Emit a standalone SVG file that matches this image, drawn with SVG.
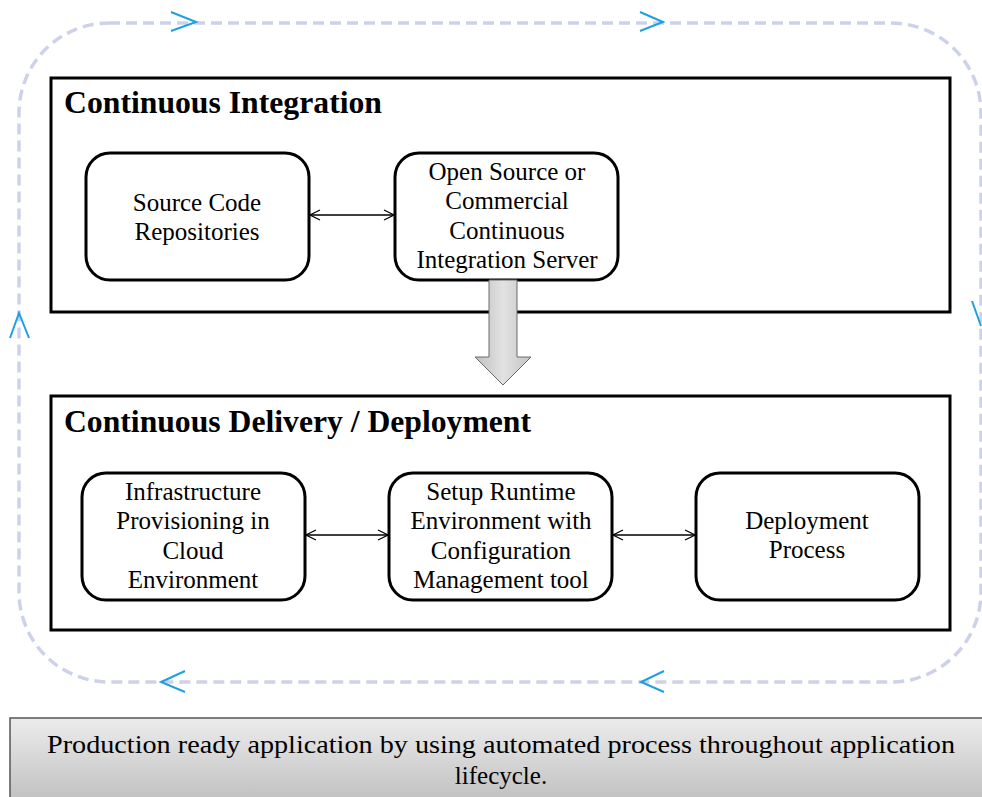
<svg xmlns="http://www.w3.org/2000/svg" width="982" height="797" viewBox="0 0 982 797">
<style>
.box{fill:#fff;stroke:#000;stroke-width:3}
.node{fill:#fff;stroke:#000;stroke-width:3}
.t{font-family:"Liberation Serif","Times New Roman",serif;font-size:25px;fill:#000;text-anchor:middle}
.title{font-family:"Liberation Serif","Times New Roman",serif;font-size:31px;font-weight:bold;fill:#000}
.con{stroke:#000;stroke-width:1.3;fill:none;marker-start:url(#ah);marker-end:url(#ah)}
.chev{fill:none;stroke:#1ea0e0;stroke-width:2}
</style>
<defs>
<marker id="ah" viewBox="0 0 12 12" refX="11" refY="6" markerWidth="12" markerHeight="12" markerUnits="userSpaceOnUse" orient="auto-start-reverse">
<path d="M1,1 L11,6 L1,11" fill="none" stroke="#000" stroke-width="1.2"/>
</marker>
<linearGradient id="g1" x1="0" y1="0" x2="0" y2="1">
<stop offset="0" stop-color="#ececec"/>
<stop offset="1" stop-color="#bdbdbd"/>
</linearGradient>
<linearGradient id="g2" x1="0" y1="0" x2="1" y2="0">
<stop offset="0" stop-color="#bfbfbf"/>
<stop offset="0.5" stop-color="#e2e2e2"/>
<stop offset="1" stop-color="#c4c4c4"/>
</linearGradient>
</defs>
<g id="loop">
<rect x="19" y="23" width="962" height="659" rx="90" ry="90" fill="none" stroke="#cdd2ea" stroke-width="3.5" stroke-dasharray="11,6"/>
<path class="chev" d="M171,12 L196,22 L171,31"/>
<path class="chev" d="M640,12 L663,22 L640,31"/>
<path class="chev" d="M10,338 L19,313 L29,338"/>
<path class="chev" d="M972,301 L981,326"/>
<path class="chev" d="M185,671 L161,682 L185,692"/>
<path class="chev" d="M664,671 L641,682 L664,692"/>
</g>
<g id="ci">
<rect class="box" x="51" y="78" width="899" height="234"/>
<text class="title" x="64" y="113" textLength="318" lengthAdjust="spacingAndGlyphs">Continuous Integration</text>
</g>
<g id="cd">
<rect class="box" x="51" y="396" width="899" height="234"/>
<text class="title" x="64" y="432" textLength="467" lengthAdjust="spacingAndGlyphs">Continuous Delivery / Deployment</text>
</g>
<g id="n1">
<rect class="node" x="86" y="153" width="223" height="127" rx="24"/>
<text class="t" x="197" y="211">Source Code</text>
<text class="t" x="197" y="240">Repositories</text>
</g>
<g id="n2">
<rect class="node" x="395" y="153" width="223" height="127" rx="24"/>
<text class="t" x="507" y="180">Open Source or</text>
<text class="t" x="507" y="209">Commercial</text>
<text class="t" x="507" y="239">Continuous</text>
<text class="t" x="507" y="268">Integration Server</text>
</g>
<g id="n3">
<rect class="node" x="82" y="473" width="223" height="127" rx="24"/>
<text class="t" x="193" y="500">Infrastructure</text>
<text class="t" x="193" y="529">Provisioning in</text>
<text class="t" x="193" y="559">Cloud</text>
<text class="t" x="193" y="588">Environment</text>
</g>
<g id="n4">
<rect class="node" x="389" y="473" width="223" height="127" rx="24"/>
<text class="t" x="501" y="500">Setup Runtime</text>
<text class="t" x="501" y="529">Environment with</text>
<text class="t" x="501" y="559">Configuration</text>
<text class="t" x="501" y="588">Management tool</text>
</g>
<g id="n5">
<rect class="node" x="696" y="473" width="223" height="127" rx="24"/>
<text class="t" x="807" y="529">Deployment</text>
<text class="t" x="807" y="558">Process</text>
</g>
<g id="connectors">
<line class="con" x1="310" y1="215" x2="394" y2="215"/>
<line class="con" x1="306" y1="535" x2="388" y2="535"/>
<line class="con" x1="613" y1="535" x2="695" y2="535"/>
<path d="M489,280 L517,280 L517,357 L531,357 L503,385 L475,357 L489,357 Z" fill="url(#g2)" stroke="#6a6a6a" stroke-width="1"/>
</g>
<g id="summary">
<rect x="10" y="718" width="980" height="90" fill="url(#g1)" stroke="#555" stroke-width="1.5"/>
<text class="t" x="501" y="753" textLength="908" lengthAdjust="spacingAndGlyphs">Production ready application by using automated process throughout application</text>
<text class="t" x="501" y="784">lifecycle.</text>
</g>
</svg>
